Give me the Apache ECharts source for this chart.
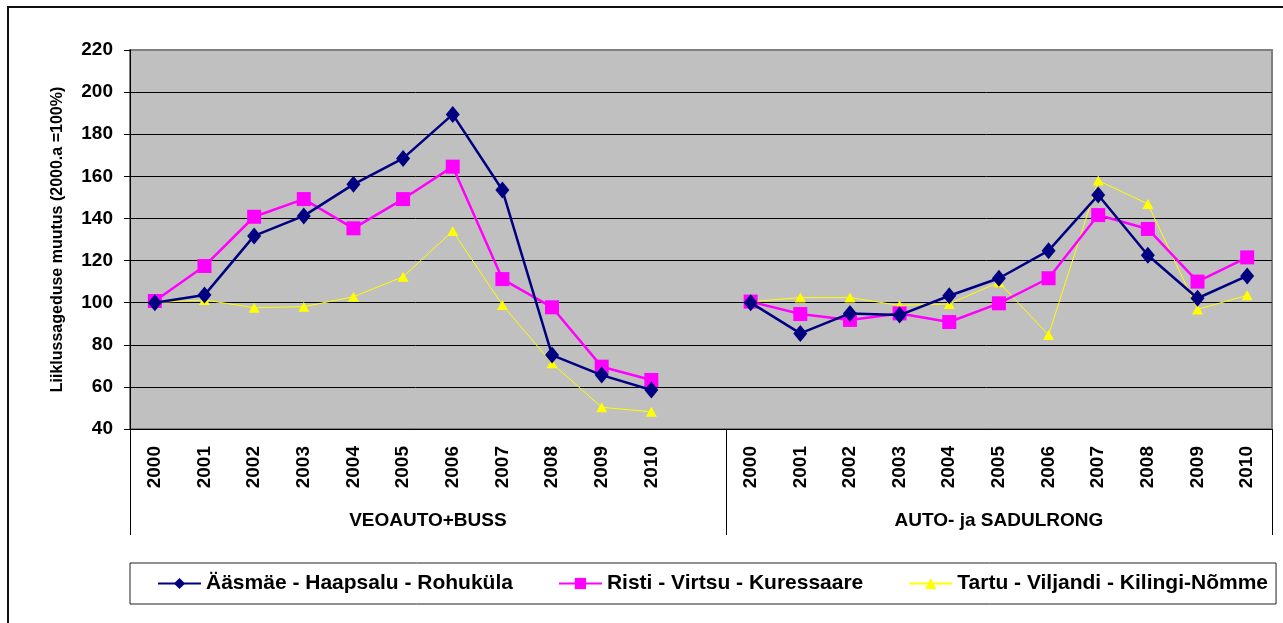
<!DOCTYPE html>
<html lang="et">
<head>
    <meta charset="UTF-8">
    <title>Liiklussageduse muutus</title>
    <style>
        html, body { margin: 0; padding: 0; background: #fff; }
        .chart { width: 1283px; height: 623px; }
    </style>
</head>
<body>
    <div class="chart"></div>
    <script src="https://cdn.jsdelivr.net/npm/echarts@6/dist/echarts.min.js"></script>
    <script>
        // aastad, kaks gruppi + tühi vahe nende vahel
        const years = ['2000', '2001', '2002', '2003', '2004', '2005', '2006', '2007', '2008', '2009', '2010']
        const groups = ['VEOAUTO+BUSS', 'AUTO- ja SADULRONG']
        const seriesNames = ['Ääsmäe - Haapsalu - Rohuküla', 'Risti - Virtsu - Kuressaare', 'Tartu - Viljandi - Kilingi-Nõmme']

        // VEOAUTO+BUSS
        const veoAasmae = [100, 103.6, 131.7, 141.2, 156.2, 168.5, 189.4, 153.5, 75.1, 65.6, 58.5]
        const veoRisti = [100.8, 117.4, 140.8, 149.2, 135.3, 149.2, 164.6, 111.2, 97.8, 69.6, 63.3]
        const veoTartu = [100, 101.3, 97.6, 98.1, 102.8, 112.3, 134, 98.9, 71.2, 50.3, 48.2]
        // AUTO- ja SADULRONG
        const autoAasmae = [100, 85.4, 94.9, 94.1, 103.3, 111.6, 124.7, 151.1, 122.5, 102.1, 112.7]
        const autoRisti = [100.5, 94.6, 91.8, 94.9, 90.8, 99.7, 111.6, 141.6, 135, 110, 121.5]
        const autoTartu = [100.5, 102.4, 102.4, 98.7, 99.4, 109.7, 84.6, 158, 146.9, 96.8, 103.5]

        const yTicks = { min: 40, max: 220, step: 20 }

        const categories = [...years, '', ...years]
        const join = (a, b) => [...a, null, ...b]
        const font = '"Liberation Sans", Arial, sans-serif'

        const styles = [
            { color: '#000080', width: 2.5, symbol: 'diamond', size: [14, 17] },
            { color: '#FF00FF', width: 2.5, symbol: 'rect', size: 14 },
            { color: '#FFFF00', width: 1, symbol: 'triangle', size: [11, 10] }
        ]
        const values = [join(veoAasmae, autoAasmae), join(veoRisti, autoRisti), join(veoTartu, autoTartu)]

        const series = seriesNames.map((name, i) => ({
            name,
            type: 'line',
            data: values[i],
            connectNulls: false,
            symbol: styles[i].symbol,
            symbolSize: styles[i].size,
            itemStyle: { color: styles[i].color },
            lineStyle: { color: styles[i].color, width: styles[i].width },
            z: 10 - i
        }))

        const chart = echarts.init(document.querySelector('.chart'))
        chart.setOption({
            animation: false,
            textStyle: { fontFamily: font },
            graphic: [{
                type: 'rect',
                shape: { x: 8, y: 7, width: 1300, height: 640 },
                style: { fill: null, stroke: '#111', lineWidth: 2 },
                silent: true
            }],
            grid: {
                left: 130, right: 11, top: 50, bottom: 194,
                show: true,
                backgroundColor: '#C0C0C0',
                borderColor: '#808080',
                borderWidth: 2
            },
            legend: {
                data: seriesNames,
                left: 130, top: 563,
                padding: [10, 8, 10, 27],
                itemWidth: 43, itemHeight: 14, itemGap: 45,
                borderColor: '#222', borderWidth: 1,
                textStyle: { fontFamily: font, fontSize: 21, fontWeight: 'bold', color: '#000' }
            },
            xAxis: [{
                type: 'category',
                data: categories,
                boundaryGap: true,
                axisLine: { lineStyle: { color: '#000', width: 1 } },
                axisTick: { interval: 0, length: 61, lineStyle: { color: '#000' } },
                axisLabel: {
                    interval: 0, rotate: 90, margin: 17,
                    fontFamily: font, fontSize: 19, fontWeight: 'bold', color: '#000'
                },
                splitLine: { show: false }
            }, {
                type: 'value',
                min: 0, max: categories.length,
                position: 'bottom',
                axisLine: { show: false },
                splitLine: { show: false },
                axisTick: {
                    customValues: [0, years.length + 1, categories.length],
                    length: 106,
                    lineStyle: { color: '#000' }
                },
                axisLabel: {
                    customValues: [(years.length + 1) / 2, years.length + 1 + years.length / 2],
                    formatter: v => v < years.length ? groups[0] : groups[1],
                    margin: 82,
                    fontFamily: font, fontSize: 19, fontWeight: 'bold', color: '#000'
                }
            }],
            yAxis: {
                type: 'value',
                min: yTicks.min, max: yTicks.max, interval: yTicks.step,
                name: 'Liiklussageduse muutus (2000.a =100%)',
                nameLocation: 'middle',
                nameRotate: 90,
                nameGap: 64,
                nameTextStyle: { fontFamily: font, fontSize: 16, fontWeight: 'bold', color: '#000' },
                axisLine: { show: true, lineStyle: { color: '#000', width: 1 } },
                axisTick: { show: true, inside: false, length: 6, lineStyle: { color: '#000' } },
                axisLabel: { margin: 17, fontFamily: font, fontSize: 19, fontWeight: 'bold', color: '#000' },
                splitLine: { show: true, showMaxLine: false, lineStyle: { color: '#000', width: 1 } }
            },
            series
        })
    </script>
</body>
</html>
